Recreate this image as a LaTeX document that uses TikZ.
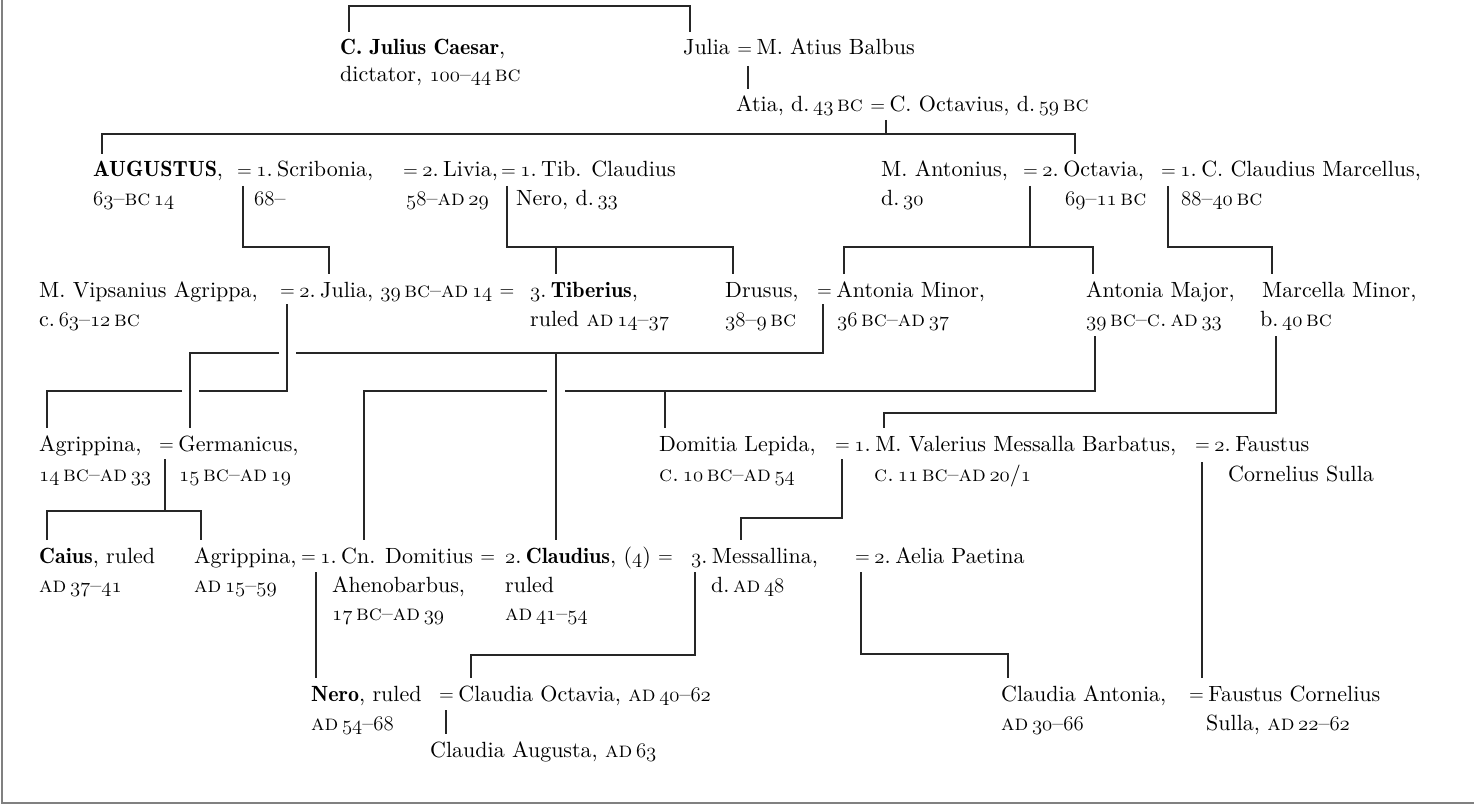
\documentclass[tikz,border=0pt]{standalone}
\usepackage{fontspec}
\setmainfont{lmroman10-regular}[
  Extension=.otf,
  BoldFont=lmromandemi10-regular,
  ItalicFont=lmroman10-italic,
  SmallCapsFont=lmromancaps10-regular]
% old-style figures taken from the Latin Modern math italic
\newcommand\on[1]{{\fontencoding{OML}\fontfamily{lmm}\fontseries{m}\fontshape{it}\selectfont #1}}
% ordinal of a marriage: "1. "
\newcommand\nm[1]{\on{#1}.\hspace{4.5pt}}
\newcommand\yBC{\,\textsc{bc}}
\newcommand\yAD{\textsc{ad}\,}
% a slimmer marriage sign with its own trailing gap
\newcommand\eq{\raisebox{0.9pt}{\fontsize{19}{19}\selectfont=}\hspace{4.5pt}}
\newcommand\fs{\fontsize{22}{27}\selectfont}
\tikzset{
  p/.style={anchor=base west, inner sep=0pt, outer ysep=8pt, text height=15pt, text depth=5pt, font=\fs},
  conn/.style={draw=black!85, line width=1.3pt},
  frame/.style={draw=black!50, line width=2.5pt}
}
\begin{document}
\begin{tikzpicture}[x=1pt,y=-1pt]
\useasboundingbox (0,0) rectangle (1474,805);
\draw[frame] (2,0) -- (2,803) -- (1474,803);

% generation 1
\node[p] (caesar) at (340,55) {\textbf{C. Julius Caesar},};
\node[p] (caesarb) at (340,82) {dictator, \on{100}–\on{44}\yBC};
\node[p] (julia) at (683,55) {Julia \eq M. Atius Balbus};
\node[p] (atia) at (736,112) {Atia, d.\,\on{43}\yBC{} \eq C. Octavius, d.\,\on{59}\yBC};

% generation 2
\node[p] (aug) at (93,177) {\textbf{AUGUSTUS},};
\node[p] (scrib) at (237,177) {\eq\nm{1}Scribonia,};
\node[p] (livia) at (403,177) {\eq\nm{2}Livia,};
\node[p] (tibc) at (501,177) {\eq\nm{1}Tib. Claudius};
\node[p] (augb) at (93,205) {\on{63}–\textsc{bc}\,\on{14}};
\node[p] (scribb) at (254,205) {\on{68}–};
\node[p] (liviab) at (406,205) {\on{58}–\yAD\on{29}};
\node[p] (tibcb) at (516,205) {Nero, d.\,\on{33}};
\node[p] (anton) at (881,177) {M. Antonius,};
\node[p] (oct) at (1023,177) {\eq\nm{2}Octavia,};
\node[p] (marc) at (1161,177) {\eq\nm{1}C. Claudius Marcellus,};
\node[p] (antonb) at (881,205) {d.\,\on{30}};
\node[p] (octb) at (1065,205) {\on{69}–\on{11}\yBC};
\node[p] (marcb) at (1181,205) {\on{88}–\on{40}\yBC};

% generation 3
\node[p] (agrippa) at (39,297) {M. Vipsanius Agrippa,};
\node[p] (jul2) at (280,297) {\eq\nm{2}Julia, \on{39}\yBC–\yAD\on{14} \eq};
\node[p] (tib) at (530,297) {\nm{3}\textbf{Tiberius},};
\node[p] (drusus) at (725,297) {Drusus,};
\node[p] (antmin) at (817,297) {\eq Antonia Minor,};
\node[p] (antmaj) at (1086,297) {Antonia Major,};
\node[p] (marcmin) at (1262,297) {Marcella Minor,};
\node[p] (agrippab) at (39,326) {c.\,\on{63}–\on{12}\yBC};
\node[p] (tibb) at (530,326) {ruled \yAD\on{14}–\on{37}};
\node[p] (drusb) at (725,326) {\on{38}–\on{9}\yBC};
\node[p] (antminb) at (837,326) {\on{36}\yBC–\yAD\on{37}};
\node[p] (antmajb) at (1086,326) {\on{39}\yBC–\textsc{c.}\,\yAD\on{33}};
\node[p] (marcminb) at (1260,326) {b.\,\on{40}\yBC};

% generation 4
\node[p] (agrippina) at (39,451) {Agrippina,};
\node[p] (germ) at (159,451) {\eq Germanicus,};
\node[p] (agrippinab) at (39,481) {\on{14}\yBC–\yAD\on{33}};
\node[p] (germb) at (179,481) {\on{15}\yBC–\yAD\on{19}};
\node[p] (domlep) at (659,451) {Domitia Lepida,};
\node[p] (valer) at (835,451) {\eq\nm{1}M. Valerius Messalla Barbatus,};
\node[p] (faust) at (1195,451) {\eq\nm{2}Faustus};
\node[p] (domlepb) at (659,481) {\textsc{c.}\,\on{10}\yBC–\yAD\on{54}};
\node[p] (valerb) at (874,481) {\textsc{c.}\,\on{11}\yBC–\yAD\on{20}/\on{1}};
\node[p] (faustb) at (1228,481) {Cornelius Sulla};

% generation 5
\node[p] (caius) at (39,563) {\textbf{Caius}, ruled};
\node[p] (caiusb) at (39,592) {\yAD\on{37}–\on{41}};
\node[p] (agr2) at (194,563) {Agrippina,};
\node[p] (agr2b) at (194,592) {\yAD\on{15}–\on{59}};
\node[p] (domit) at (301,563) {\eq\nm{1}Cn. Domitius \eq};
\node[p] (domitb) at (332,592) {Ahenobarbus,};
\node[p] (domitc) at (332,620) {\on{17}\yBC–\yAD\on{39}};
\node[p] (claud) at (505,563) {\nm{2}\textbf{Claudius}, (\on{4}) \eq};
\node[p] (claudb) at (505,592) {ruled};
\node[p] (claudc) at (505,620) {\yAD\on{41}–\on{54}};
\node[p] (mess) at (691,563) {\nm{3}Messallina,};
\node[p] (messb) at (711,592) {d.\,\yAD\on{48}};
\node[p] (aelia) at (855,563) {\eq\nm{2}Aelia Paetina};

% generation 6
\node[p] (nero) at (311,701) {\textbf{Nero}, ruled};
\node[p] (nerob) at (311,730) {\yAD\on{54}–\on{68}};
\node[p] (cloct) at (439,701) {\eq Claudia Octavia, \yAD\on{40}–\on{62}};
\node[p] (clant) at (1001,701) {Claudia Antonia,};
\node[p] (clantb) at (1001,730) {\yAD\on{30}–\on{66}};
\node[p] (fcs) at (1189,701) {\eq Faustus Cornelius};
\node[p] (fcsb) at (1206,730) {Sulla, \yAD\on{22}–\on{62}};
\node[p] (claug) at (430,757) {Claudia Augusta, \yAD\on{63}};

% marriage points and junctions
\coordinate (mJ) at (748,66);
\coordinate (mAt) at (886,120);
\coordinate (jAt) at (886,134);
\coordinate (mAS) at (243,186);
\coordinate (mLT) at (507,186);
\coordinate (jLT) at (556,247);
\coordinate (mAO) at (1030,186);
\coordinate (jAO) at (1030,247);
\coordinate (mOM) at (1168,186);
\coordinate (mAJ) at (287,304);
\coordinate (mDA) at (823,304);
\coordinate (jDA) at (556,353);
\coordinate (mAM) at (1095,336);
\coordinate (jAM) at (665,391);
\coordinate (mMM) at (1276,336);
\coordinate (mAG) at (165,459);
\coordinate (jAG) at (165,511);
\coordinate (mDV) at (842,459);
\coordinate (mVF) at (1202,462);
\coordinate (mAD) at (316,572);
\coordinate (mCM) at (695,572);
\coordinate (mMA) at (861,572);
\coordinate (mNC) at (446,710);

% connectors
\draw[conn] (349,0 |- caesar.north) |- (690,6) -- (690,0 |- julia.north);
\draw[conn] (mJ) -- (748,0 |- atia.north);
\draw[conn] (mAt) -- (jAt);
\draw[conn] (102,0 |- aug.north) |- (1075,134) -- (1075,0 |- oct.north);

\draw[conn] (mAS) |- (329,247) -- (329,0 |- jul2.north);
\draw[conn] (mLT) |- (733,247) -- (733,0 |- drusus.north);
\draw[conn] (jLT) -- (556,0 |- tib.north);
\draw[conn] (844,0 |- antmin.north) |- (1093,247) -- (1093,0 |- antmaj.north);
\draw[conn] (mAO) -- (jAO);
\draw[conn] (mOM) |- (1272,247) -- (1272,0 |- marcmin.north);

\draw[conn] (mAJ) |- (199,391);
\draw[conn] (182,391) -| (47,0 |- agrippina.north);
\draw[conn] (mDA) |- (296,353);
\draw[conn] (279,353) -| (190,0 |- germ.north);
\draw[conn] (jDA) -- (556,0 |- claud.north);
\draw[conn] (mAM) |- (565,391);
\draw[conn] (547,391) -| (364,0 |- domit.north);
\draw[conn] (jAM) -- (665,0 |- domlep.north);
\draw[conn] (mMM) |- (884,413) -- (884,0 |- valer.north);

\draw[conn] (mAG) -- (jAG);
\draw[conn] (47,0 |- caius.north) |- (201,511) -- (201,0 |- agr2.north);
\draw[conn] (mDV) |- (741,518) -- (741,0 |- mess.north);
\draw[conn] (mVF) -- (1202,0 |- fcs.north);

\draw[conn] (mAD) -- (316,0 |- nero.north);
\draw[conn] (mCM) |- (471,655) -- (471,0 |- cloct.north);
\draw[conn] (mMA) |- (1008,654) -- (1008,0 |- clant.north);
\draw[conn] (mNC) -- (446,0 |- claug.north);
\end{tikzpicture}
\end{document}
